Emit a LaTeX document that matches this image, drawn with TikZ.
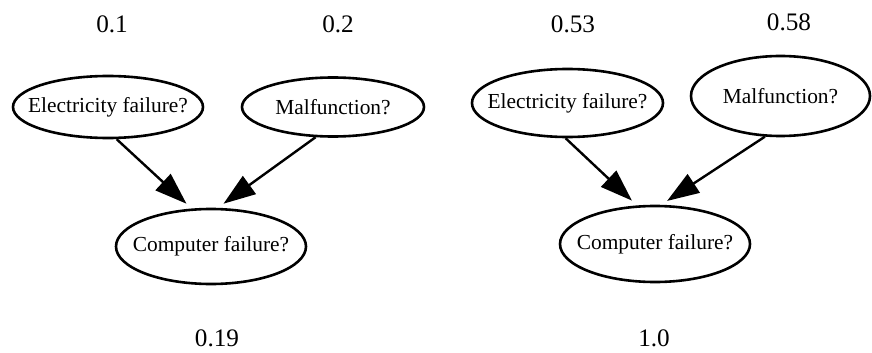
\documentclass[tikz,border=0pt]{standalone}
\usepackage{fontspec}
\setmainfont{Liberation Serif}
\usetikzlibrary{arrows.meta,shapes.geometric}

\begin{document}
\begin{tikzpicture}[
    x=0.5pt, y=-0.5pt,
    font=\fontsize{10.7}{12}\selectfont,
    nodo/.style={draw, ellipse, line width=1.3pt, inner sep=0pt,
                 label={[inner sep=0pt]center:#1}},
    prob/.style={font=\fontsize{12.6}{14}\selectfont, inner sep=0pt},
    causa/.style={-{Triangle[length=16pt, width=11pt]}, line width=1.2pt,
                  shorten >=3.5pt}
  ]
    \useasboundingbox (0,0) rectangle (872,353);
    % red izquierda
    \node[nodo=Electricity failure?, minimum width=95pt, minimum height=31pt] (elec1) at (108,107) {};
    \node[nodo=Malfunction?, minimum width=91pt, minimum height=29.5pt] (mal1) at (333,107) {};
    \node[nodo=Computer failure?, minimum width=95pt, minimum height=37.5pt] (comp1) at (211,246.5) {};
    \node[prob] (pelec1) at (112,24) {0.1};
    \node[prob] (pmal1) at (338,24) {0.2};
    \node[prob] (pcomp1) at (217,338) {0.19};
    \draw[causa] (elec1.-75.6) -- (comp1.117.6);
    \draw[causa] (mal1.-120) -- (comp1.80.8);
    % red derecha
    \node[nodo=Electricity failure?, minimum width=95.5pt, minimum height=34pt] (elec2) at (567.5,103) {};
    \node[nodo=Malfunction?, minimum width=89.5pt, minimum height=40pt] (mal2) at (780.5,96) {};
    \node[nodo=Computer failure?, minimum width=95pt, minimum height=38pt] (comp2) at (655,244) {};
    \node[prob] (pelec2) at (573,24) {0.53};
    \node[prob] (pmal2) at (789,22) {0.58};
    \node[prob] (pcomp2) at (654,338) {1.0};
    \draw[causa] (elec2.-93) -- (comp2.115.4);
    \draw[causa] (mal2.-111.3) -- (comp2.81.9);
  \end{tikzpicture}
\end{document}
